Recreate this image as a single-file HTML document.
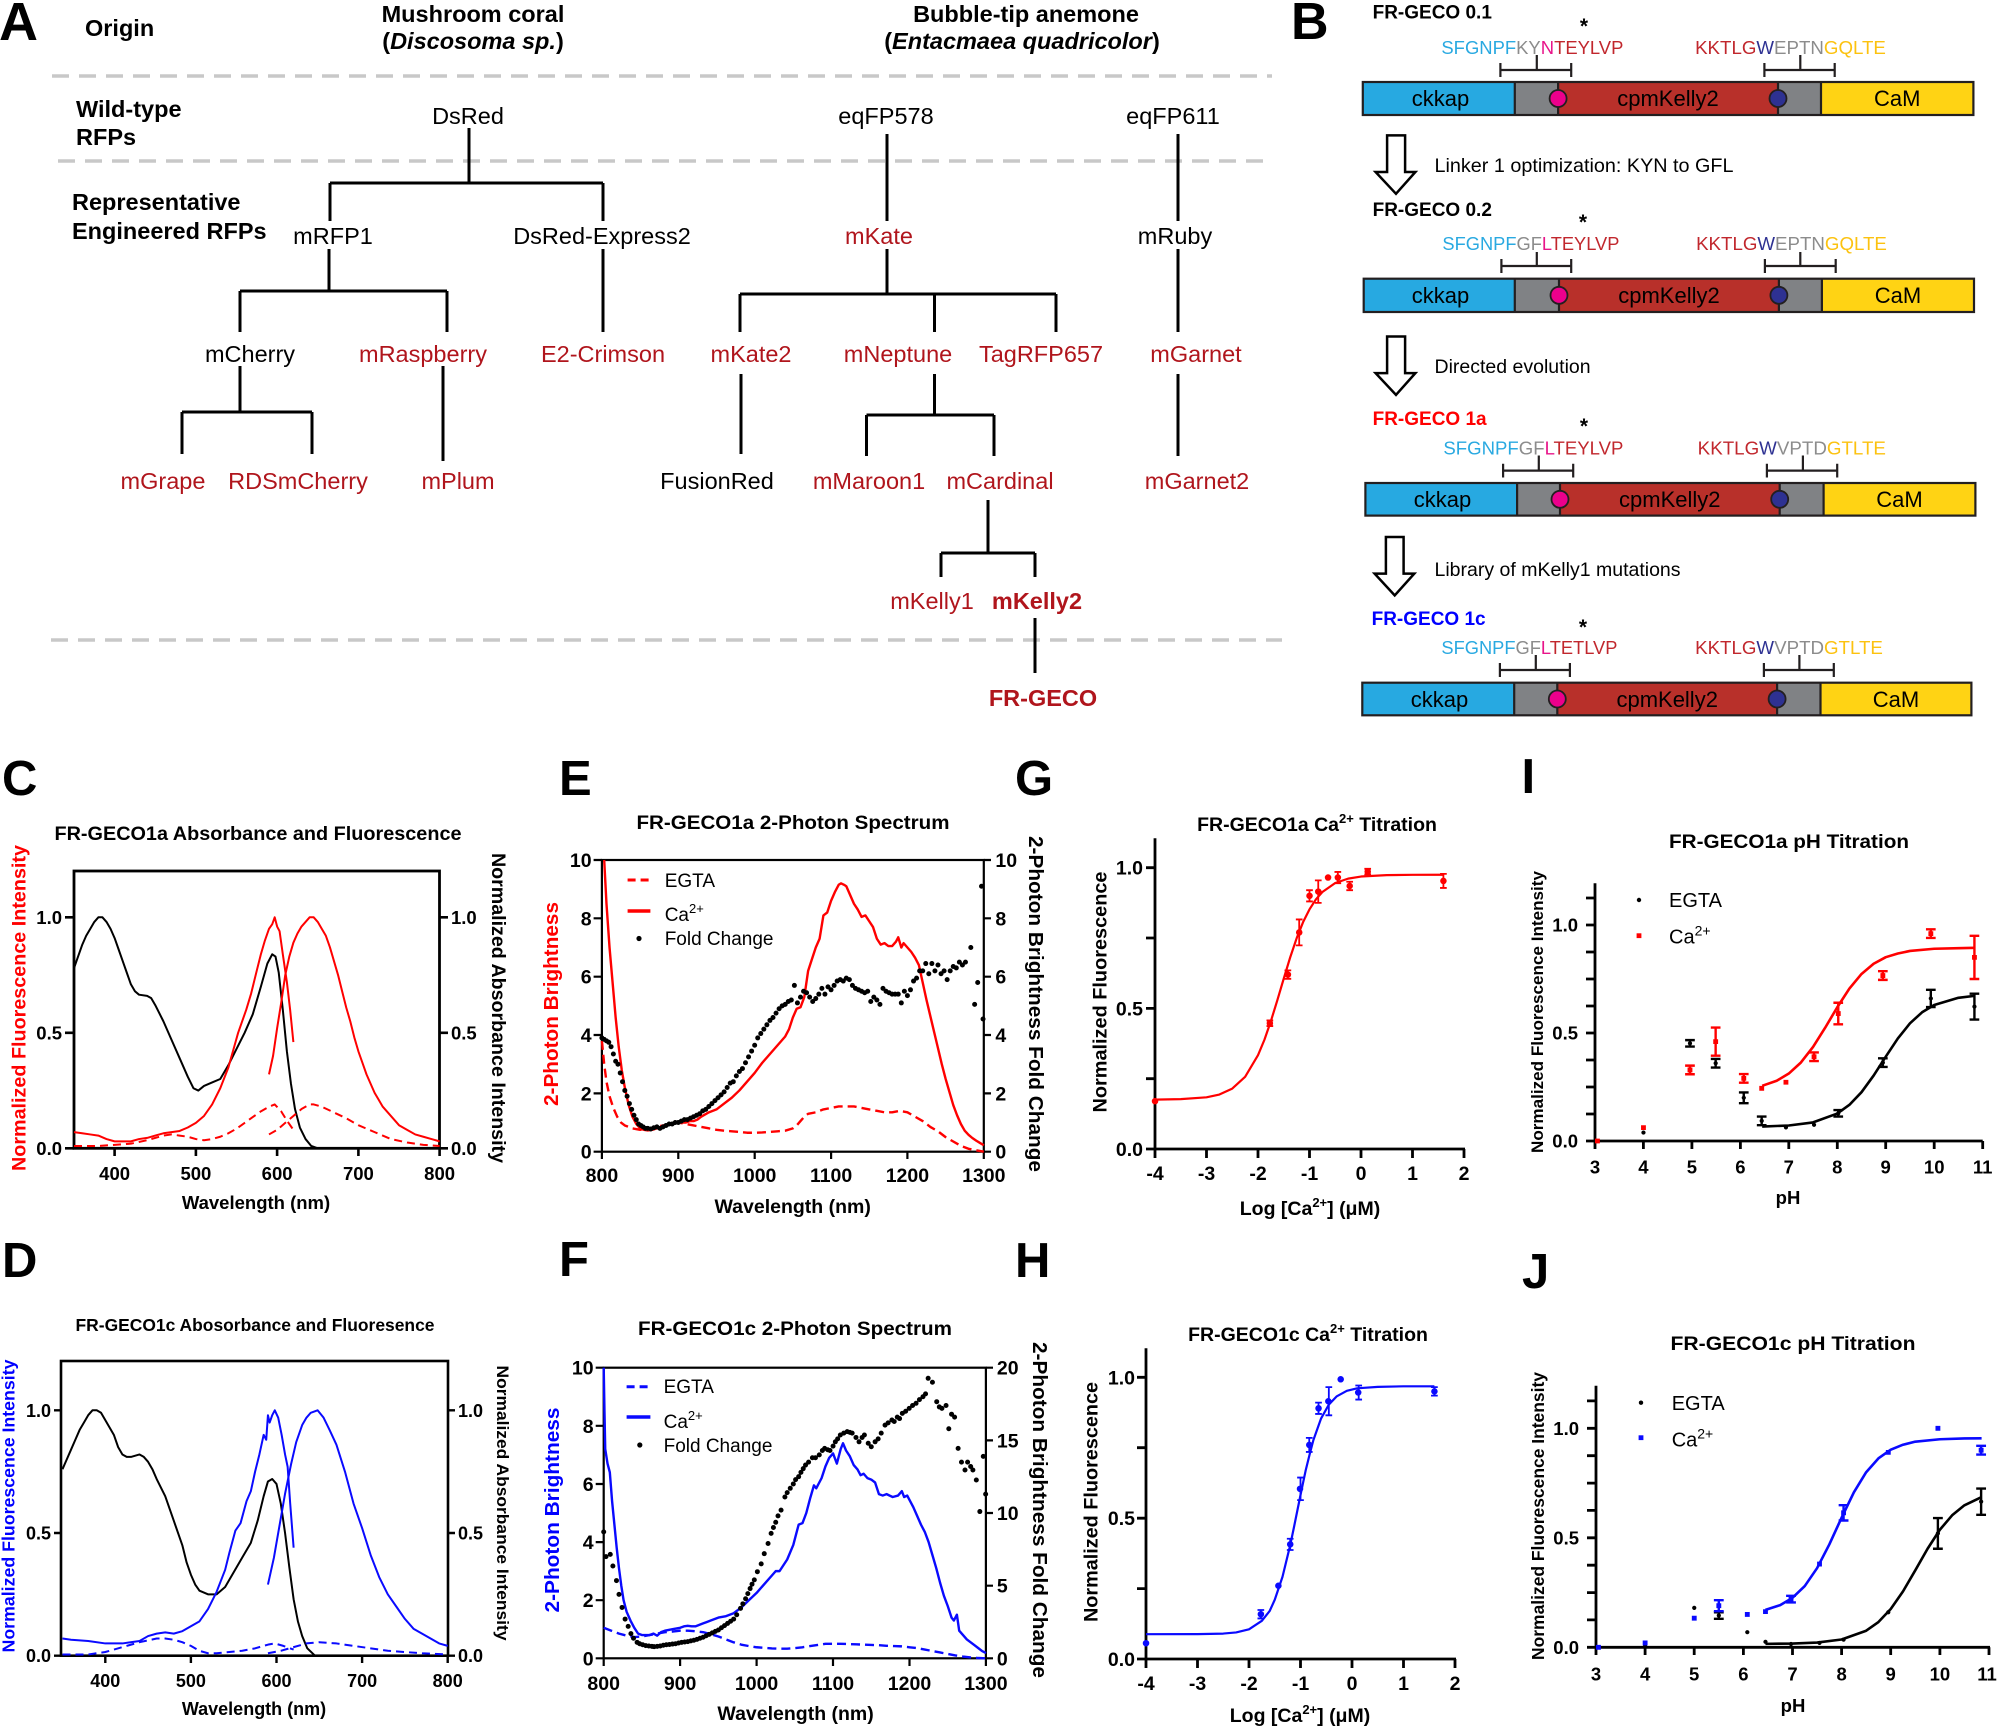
<!DOCTYPE html>
<html><head><meta charset="utf-8">
<style>
html,body{margin:0;padding:0;background:#fff;}
svg{display:block;}
text{font-family:"Liberation Sans",Arial,sans-serif;fill:#000;}
.b{font-weight:bold;}
.d{fill:none;vector-effect:non-scaling-stroke;stroke-linejoin:round;}
.ax{fill:none;stroke:#000;}
</style></head><body>
<svg width="1998" height="1727" viewBox="0 0 1998 1727" xmlns="http://www.w3.org/2000/svg">
<rect width="1998" height="1727" fill="#fff"/>

<!-- ================= PANEL A ================= -->
<text x="-1" y="40" class="b" font-size="54">A</text>
<g class="b" font-size="23.5">
<text x="85" y="36">Origin</text>
<text x="473" y="22" text-anchor="middle">Mushroom coral</text>
<text x="473" y="49" text-anchor="middle">(<tspan font-style="italic">Discosoma sp.</tspan>)</text>
<text x="1026" y="22" text-anchor="middle">Bubble-tip anemone</text>
<text x="1022" y="49" text-anchor="middle">(<tspan font-style="italic">Entacmaea quadricolor</tspan>)</text>
<text x="76" y="117">Wild-type</text>
<text x="76" y="145">RFPs</text>
<text x="72" y="210">Representative</text>
<text x="72" y="239">Engineered RFPs</text>
</g>
<g stroke="#c8c8c8" stroke-width="3.5" stroke-dasharray="17 10" fill="none">
<path d="M52 76H1272"/>
<path d="M58 161H1272"/>
<path d="M51 640H1282"/>
</g>
<g font-size="23.5" text-anchor="middle">
<text x="468" y="124">DsRed</text>
<text x="886" y="124">eqFP578</text>
<text x="1173" y="124">eqFP611</text>
<text x="333" y="244">mRFP1</text>
<text x="602" y="244">DsRed-Express2</text>
<text x="879" y="244" style="fill:#b0151c">mKate</text>
<text x="1175" y="244">mRuby</text>
<text x="250" y="362">mCherry</text>
<text x="423" y="362" style="fill:#b0151c">mRaspberry</text>
<text x="603" y="362" style="fill:#b0151c">E2-Crimson</text>
<text x="751" y="362" style="fill:#b0151c">mKate2</text>
<text x="898" y="362" style="fill:#b0151c">mNeptune</text>
<text x="1041" y="362" style="fill:#b0151c">TagRFP657</text>
<text x="1196" y="362" style="fill:#b0151c">mGarnet</text>
<text x="163" y="489" style="fill:#b0151c">mGrape</text>
<text x="298" y="489" style="fill:#b0151c">RDSmCherry</text>
<text x="458" y="489" style="fill:#b0151c">mPlum</text>
<text x="869" y="489" style="fill:#b0151c">mMaroon1</text>
<text x="1000" y="489" style="fill:#b0151c">mCardinal</text>
<text x="1197" y="489" style="fill:#b0151c">mGarnet2</text>
<text x="932" y="609" style="fill:#b0151c">mKelly1</text>
<text x="1037" y="609" class="b" style="fill:#b0151c">mKelly2</text>
<text x="1043" y="706" class="b" style="fill:#b0151c">FR-GECO</text>
<text x="717" y="489">FusionRed</text>
</g>
<path fill="none" stroke="#000" stroke-width="3" d="M469 128V183 M330 183H603 M330 183V221 M603 183V221 M887 134V221 M1178 134V221 M329 249V291 M240 291H447 M240 291V332 M447 291V332 M603 249V332 M887 249V294 M740 294H1056 M740 294V332 M934.5 294V332 M1056 294V332 M1178 249V332 M240 366V412 M182 412H312 M182 412V454 M312 412V454 M443 366V461 M741 374V454 M934.5 374V415 M866.5 415H994 M866.5 415V456 M994 415V456 M1178 374V456 M988 500V553 M941 553H1035 M941 553V577 M1035 553V577 M1035 618V673"/>

<!-- ================= PANEL B ================= -->
<text x="1291" y="39" class="b" font-size="52">B</text>
<g class="b" font-size="19">
<text x="1372.6" y="18.5">FR-GECO 0.1</text>
<text x="1372.6" y="216">FR-GECO 0.2</text>
<text x="1372.6" y="425" style="fill:#ff0000">FR-GECO 1a</text>
<text x="1371.6" y="625" style="fill:#0000ff">FR-GECO 1c</text>
</g>
<g class="b" font-size="21" text-anchor="middle">
<text x="1584" y="33">*</text>
<text x="1583" y="229">*</text>
<text x="1584" y="433">*</text>
<text x="1583" y="634">*</text>
</g>
<g font-size="18.5">
<text x="1441.4" y="54" textLength="182" lengthAdjust="spacingAndGlyphs"><tspan style="fill:#29a9e1">SFGNPF</tspan><tspan style="fill:#8c8c8c">KY</tspan><tspan style="fill:#e8158a">N</tspan><tspan style="fill:#c1272d">TEYLVP</tspan></text>
<text x="1695.1" y="54" textLength="190.8" lengthAdjust="spacingAndGlyphs"><tspan style="fill:#c1272d">KKTLG</tspan><tspan style="fill:#2e3192">W</tspan><tspan style="fill:#8c8c8c">EPTN</tspan><tspan style="fill:#fcc20f">GQLTE</tspan></text>
<text x="1442.4" y="250" textLength="177" lengthAdjust="spacingAndGlyphs"><tspan style="fill:#29a9e1">SFGNPF</tspan><tspan style="fill:#8c8c8c">GF</tspan><tspan style="fill:#e8158a">L</tspan><tspan style="fill:#c1272d">TEYLVP</tspan></text>
<text x="1696.1" y="250" textLength="190.8" lengthAdjust="spacingAndGlyphs"><tspan style="fill:#c1272d">KKTLG</tspan><tspan style="fill:#2e3192">W</tspan><tspan style="fill:#8c8c8c">EPTN</tspan><tspan style="fill:#fcc20f">GQLTE</tspan></text>
<text x="1443.4" y="454.5" textLength="180" lengthAdjust="spacingAndGlyphs"><tspan style="fill:#29a9e1">SFGNPF</tspan><tspan style="fill:#8c8c8c">GF</tspan><tspan style="fill:#e8158a">L</tspan><tspan style="fill:#c1272d">TEYLVP</tspan></text>
<text x="1697.7" y="454.5" textLength="188.2" lengthAdjust="spacingAndGlyphs"><tspan style="fill:#c1272d">KKTLG</tspan><tspan style="fill:#2e3192">W</tspan><tspan style="fill:#8c8c8c">VPTD</tspan><tspan style="fill:#fcc20f">GTLTE</tspan></text>
<text x="1441.4" y="654" textLength="176" lengthAdjust="spacingAndGlyphs"><tspan style="fill:#29a9e1">SFGNPF</tspan><tspan style="fill:#8c8c8c">GF</tspan><tspan style="fill:#e8158a">L</tspan><tspan style="fill:#c1272d">TETLVP</tspan></text>
<text x="1695.1" y="654" textLength="187.8" lengthAdjust="spacingAndGlyphs"><tspan style="fill:#c1272d">KKTLG</tspan><tspan style="fill:#2e3192">W</tspan><tspan style="fill:#8c8c8c">VPTD</tspan><tspan style="fill:#fcc20f">GTLTE</tspan></text>
</g>
<!-- brackets -->
<path fill="none" stroke="#231f20" stroke-width="2.2" d="
M1500.4 70H1571.2 M1500.4 63V77 M1571.2 63V77 M1536.8 55V70 M1764.4 70H1834.7 M1764.4 63V77 M1834.7 63V77 M1800.3 55V70
M1501.4 266H1571.2 M1501.4 259V273 M1571.2 259V273 M1536.8 252V266 M1764.9 266H1835.7 M1764.9 259V273 M1835.7 259V273 M1800.3 252V266
M1503.1 470.6H1573.2 M1503.1 463.7V477.5 M1573.2 463.7V477.5 M1538.8 455.5V470.6 M1766.9 470.6H1837.2 M1766.9 463.7V477.5 M1837.2 463.7V477.5 M1802.9 455.5V470.6
M1499.9 670H1569.9 M1499.9 663V677 M1569.9 663V677 M1535.8 655V670 M1763.9 670H1833.8 M1763.9 663V677 M1833.8 663V677 M1799.4 655V670"/>
<!-- bars -->
<g stroke="none">
<rect x="1362.8" y="82" width="152" height="33" fill="#27a9e1"/><rect x="1514.8" y="82" width="43.3" height="33" fill="#808285"/><rect x="1558.1" y="82" width="219.9" height="33" fill="#b8302a"/><rect x="1778" y="82" width="43" height="33" fill="#808285"/><rect x="1821" y="82" width="152.4" height="33" fill="#ffd314"/>
<rect x="1363.7" y="278.7" width="151.1" height="33.3" fill="#27a9e1"/><rect x="1514.8" y="278.7" width="44.2" height="33.3" fill="#808285"/><rect x="1559" y="278.7" width="219.9" height="33.3" fill="#b8302a"/><rect x="1778.9" y="278.7" width="43" height="33.3" fill="#808285"/><rect x="1821.9" y="278.7" width="152.1" height="33.3" fill="#ffd314"/>
<rect x="1365.4" y="483" width="151.7" height="32.6" fill="#27a9e1"/><rect x="1517.1" y="483" width="42.9" height="32.6" fill="#808285"/><rect x="1560" y="483" width="219.7" height="32.6" fill="#b8302a"/><rect x="1779.7" y="483" width="43.9" height="32.6" fill="#808285"/><rect x="1823.6" y="483" width="151.8" height="32.6" fill="#ffd314"/>
<rect x="1362.3" y="682.7" width="151.9" height="32.6" fill="#27a9e1"/><rect x="1514.2" y="682.7" width="43.1" height="32.6" fill="#808285"/><rect x="1557.3" y="682.7" width="219.8" height="32.6" fill="#b8302a"/><rect x="1777.1" y="682.7" width="43.4" height="32.6" fill="#808285"/><rect x="1820.5" y="682.7" width="150.9" height="32.6" fill="#ffd314"/>
</g>
<g fill="none" stroke="#231f20" stroke-width="2.2">
<rect x="1362.8" y="82" width="610.6" height="33"/><path d="M1514.8 82V115M1558.1 82V115M1778 82V115M1821 82V115"/>
<rect x="1363.7" y="278.7" width="610.3" height="33.3"/><path d="M1514.8 278.7V312M1559 278.7V312M1778.9 278.7V312M1821.9 278.7V312"/>
<rect x="1365.4" y="483" width="610" height="32.6"/><path d="M1517.1 483V515.6M1560 483V515.6M1779.7 483V515.6M1823.6 483V515.6"/>
<rect x="1362.3" y="682.7" width="609.1" height="32.6"/><path d="M1514.2 682.7V715.3M1557.3 682.7V715.3M1777.1 682.7V715.3M1820.5 682.7V715.3"/>
</g>
<g stroke="#231f20" stroke-width="1.8">
<circle cx="1558.1" cy="98.5" r="8.5" fill="#ec008c"/><circle cx="1778" cy="98.5" r="8.5" fill="#2e3192"/>
<circle cx="1559" cy="295.3" r="8.5" fill="#ec008c"/><circle cx="1778.9" cy="295.3" r="8.5" fill="#2e3192"/>
<circle cx="1560" cy="499.3" r="8.5" fill="#ec008c"/><circle cx="1779.7" cy="499.3" r="8.5" fill="#2e3192"/>
<circle cx="1557.3" cy="699" r="8.5" fill="#ec008c"/><circle cx="1777.1" cy="699" r="8.5" fill="#2e3192"/>
</g>
<g font-size="22" text-anchor="middle" style="fill:#231f20">
<text x="1440.5" y="106">ckkap</text><text x="1668" y="106">cpmKelly2</text><text x="1897.2" y="106">CaM</text>
<text x="1440.5" y="303">ckkap</text><text x="1669" y="303">cpmKelly2</text><text x="1898" y="303">CaM</text>
<text x="1442.5" y="507">ckkap</text><text x="1669.8" y="507">cpmKelly2</text><text x="1899.5" y="507">CaM</text>
<text x="1439.5" y="707">ckkap</text><text x="1667.2" y="707">cpmKelly2</text><text x="1896" y="707">CaM</text>
</g>
<g fill="#fff" stroke="#000" stroke-width="2.5" stroke-linejoin="miter">
<polygon points="1387.1,135.4 1405.1,135.4 1405.1,172 1415.4,172 1396,193.8 1375.6,172 1387.1,172"/>
<polygon points="1387.1,336.5 1405.1,336.5 1405.1,373.1 1415.4,373.1 1396,394.9 1375.6,373.1 1387.1,373.1"/>
<polygon points="1385.9,537 1403.6,537 1403.6,573.6 1414.3,573.6 1394.7,595.4 1374.6,573.6 1385.9,573.6"/>
</g>
<g font-size="19.5">
<text x="1434.5" y="172" textLength="299" lengthAdjust="spacingAndGlyphs">Linker 1 optimization: KYN to GFL</text>
<text x="1434.5" y="373">Directed evolution</text>
<text x="1434.5" y="576">Library of mKelly1 mutations</text>
</g>

<!-- ================= PANEL C ================= -->
<text x="2" y="795" class="b" font-size="49">C</text>
<text x="258" y="840" class="b" font-size="19.5" text-anchor="middle" textLength="407" lengthAdjust="spacingAndGlyphs">FR-GECO1a Absorbance and Fluorescence</text>
<rect x="74" y="871" width="365.5" height="277.3" class="ax" stroke-width="2.8"/>
<path class="ax" stroke-width="2.6" d="M65 1148.3H74 M65 1032.8H74 M65 917.3H74 M439.5 1148.3H448 M439.5 1032.8H448 M439.5 917.3H448 M114.6 1148V1156 M195.9 1148V1156 M277.1 1148V1156 M358.4 1148V1156 M439.6 1148V1156"/>
<g class="b" font-size="18.5">
<g text-anchor="end"><text x="62" y="1155">0.0</text><text x="62" y="1039.5">0.5</text><text x="62" y="924">1.0</text></g>
<text x="451" y="1155">0.0</text><text x="451" y="1039.5">0.5</text><text x="451" y="924">1.0</text>
<g text-anchor="middle"><text x="114.6" y="1180">400</text><text x="195.9" y="1180">500</text><text x="277.1" y="1180">600</text><text x="358.4" y="1180">700</text><text x="439.6" y="1180">800</text>
<text x="256" y="1209">Wavelength (nm)</text></g>
</g>
<text class="b" font-size="19.5" text-anchor="middle" transform="translate(25.5,1008) rotate(-90)" style="fill:#ff0000" textLength="326" lengthAdjust="spacingAndGlyphs">Normalized Fluorescence Intensity</text>
<text class="b" font-size="19.5" text-anchor="middle" transform="translate(492,1008) rotate(90)" textLength="310" lengthAdjust="spacingAndGlyphs">Normalized Absorbance Intensity</text>
<g transform="matrix(0.8125,0,0,-231,-210.375,1148.3)">
<path class="d" stroke="#000" stroke-width="2" d="M350,0.78 L355,0.83 360,0.88 365,0.92 370,0.95 375,0.98 380,1.0 385,1.0 390,0.98 395,0.95 400,0.91 405,0.86 410,0.81 415,0.76 420,0.71 425,0.68 430,0.665 440,0.66 445,0.65 450,0.62 460,0.55 470,0.47 480,0.39 490,0.31 497,0.26 503,0.25 510,0.27 520,0.285 530,0.30 540,0.36 550,0.43 560,0.5 570,0.58 580,0.7 588,0.8 594,0.84 598,0.83 602,0.76 607,0.6 612,0.42 617,0.28 622,0.17 628,0.09 635,0.04 642,0.01 650,0"/>
<path class="d" stroke="#ff0000" stroke-width="2" d="M350,0.07 L360,0.065 370,0.06 380,0.055 390,0.04 400,0.03 410,0.03 420,0.03 430,0.04 440,0.045 450,0.055 460,0.065 470,0.07 480,0.075 490,0.09 500,0.11 510,0.14 520,0.19 530,0.26 540,0.35 548,0.45 552,0.5 556,0.54 562,0.6 568,0.67 575,0.77 580,0.84 585,0.9 590,0.95 594,0.97 597,1.0 600,0.96 603,0.94 607,0.84 612,0.72 616,0.6 620,0.46"/>
<path class="d" stroke="#ff0000" stroke-width="2" d="M590,0.32 L595,0.4 600,0.52 605,0.63 610,0.75 615,0.83 620,0.89 625,0.93 630,0.96 635,0.98 640,1.0 645,1.0 650,0.98 655,0.95 660,0.92 665,0.87 670,0.81 675,0.75 680,0.68 685,0.61 690,0.55 695,0.48 700,0.42 705,0.37 710,0.32 715,0.28 720,0.24 725,0.21 730,0.18 740,0.14 750,0.1 760,0.08 770,0.06 780,0.05 790,0.04 800,0.03"/>
<path class="d" stroke="#ff0000" stroke-width="2" stroke-dasharray="8 5" d="M350,0.01 L380,0.01 400,0.015 420,0.02 440,0.035 460,0.055 470,0.06 480,0.055 490,0.05 500,0.04 510,0.035 520,0.04 530,0.05 540,0.065 550,0.085 560,0.11 570,0.135 580,0.16 590,0.18 597,0.19 605,0.16 612,0.12 620,0.08"/>
<path class="d" stroke="#ff0000" stroke-width="2" stroke-dasharray="8 5" d="M590,0.06 L600,0.08 610,0.11 620,0.14 630,0.17 640,0.19 645,0.19 655,0.18 670,0.155 685,0.13 700,0.1 720,0.07 740,0.04 760,0.025 780,0.015 800,0.01"/>
</g>

<!-- ================= PANEL D ================= -->
<text x="2" y="1277" class="b" font-size="49">D</text>
<text x="255" y="1331" class="b" font-size="17.5" text-anchor="middle" textLength="359" lengthAdjust="spacingAndGlyphs">FR-GECO1c Abosorbance and Fluoresence</text>
<rect x="61" y="1361" width="387" height="294.7" class="ax" stroke-width="2.6"/>
<path class="ax" stroke-width="2.4" d="M54 1655.7H61 M54 1533H61 M54 1410.3H61 M448 1655.7H455 M448 1533H455 M448 1410.3H455 M105.3 1655V1663 M190.9 1655V1663 M276.5 1655V1663 M362.1 1655V1663 M447.7 1655V1663"/>
<g class="b" font-size="18">
<g text-anchor="end"><text x="51" y="1662">0.0</text><text x="51" y="1539.5">0.5</text><text x="51" y="1416.8">1.0</text></g>
<text x="458" y="1662">0.0</text><text x="458" y="1539.5">0.5</text><text x="458" y="1416.8">1.0</text>
<g text-anchor="middle"><text x="105.3" y="1687">400</text><text x="190.9" y="1687">500</text><text x="276.5" y="1687">600</text><text x="362.1" y="1687">700</text><text x="447.7" y="1687">800</text>
<text x="254" y="1715">Wavelength (nm)</text></g>
</g>
<text class="b" font-size="17.5" text-anchor="middle" transform="translate(14.5,1506) rotate(-90)" style="fill:#0000ff" textLength="293" lengthAdjust="spacingAndGlyphs">Normalized Fluorescence  Intensity</text>
<text class="b" font-size="16.5" text-anchor="middle" transform="translate(497,1503) rotate(90)" textLength="275" lengthAdjust="spacingAndGlyphs">Normalized Absorbance Intensity</text>
<g transform="matrix(0.856,0,0,-245.4,-237.1,1655.7)">
<path class="d" stroke="#000" stroke-width="2" d="M350,0.76 L355,0.8 360,0.84 365,0.88 370,0.92 375,0.95 380,0.98 385,1.0 390,1.0 395,0.99 400,0.96 405,0.93 410,0.9 415,0.85 420,0.82 425,0.81 430,0.81 440,0.82 445,0.81 450,0.79 455,0.76 460,0.72 470,0.65 480,0.55 490,0.45 495,0.38 500,0.33 505,0.29 510,0.265 520,0.25 530,0.25 540,0.28 550,0.34 560,0.4 570,0.46 578,0.55 585,0.65 590,0.71 595,0.72 600,0.7 605,0.62 610,0.5 615,0.36 620,0.23 625,0.14 630,0.08 636,0.03 645,0"/>
<path class="d" stroke="#0a0aff" stroke-width="2" d="M350,0.07 L360,0.065 380,0.06 400,0.05 420,0.05 440,0.06 450,0.08 460,0.09 470,0.095 480,0.09 490,0.1 500,0.12 510,0.14 520,0.19 530,0.26 540,0.35 545,0.42 552,0.51 558,0.54 565,0.63 570,0.67 575,0.75 580,0.82 585,0.9 588,0.88 590,0.98 592,0.95 595,0.98 598,1.0 602,0.97 606,0.9 610,0.82 613,0.77 616,0.62 620,0.44"/>
<path class="d" stroke="#0a0aff" stroke-width="2" d="M590,0.29 L597,0.4 603,0.52 610,0.66 617,0.78 623,0.87 630,0.94 635,0.97 640,0.99 648,1.0 655,0.97 662,0.92 670,0.86 680,0.75 690,0.62 700,0.52 710,0.41 720,0.32 730,0.25 740,0.2 750,0.15 760,0.11 770,0.09 780,0.07 790,0.05 800,0.04"/>
<path class="d" stroke="#0a0aff" stroke-width="2" stroke-dasharray="8 5" d="M350,0.005 L380,0.005 400,0.015 420,0.035 440,0.055 460,0.07 470,0.07 480,0.065 490,0.055 500,0.04 510,0.02 520,0.01 530,0.01 545,0.015 560,0.02 575,0.03 590,0.045 598,0.05 608,0.04 620,0.025"/>
<path class="d" stroke="#0a0aff" stroke-width="2" stroke-dasharray="8 5" d="M590,0.01 L605,0.02 620,0.035 635,0.05 650,0.055 670,0.05 690,0.04 710,0.03 730,0.02 750,0.015 770,0.01 800,0.005"/>
</g>

<!-- ================= PANEL E ================= -->
<text x="559" y="795" class="b" font-size="49">E</text>
<text x="793" y="829" class="b" font-size="19.5" text-anchor="middle" textLength="313" lengthAdjust="spacingAndGlyphs">FR-GECO1a 2-Photon Spectrum</text>
<rect x="601.9" y="860" width="381.9" height="291.7" class="ax" stroke-width="2.2"/>
<path class="ax" stroke-width="2.2" d="M593.6 1151.7H601.9 M593.6 1093.4H601.9 M593.6 1035H601.9 M593.6 976.7H601.9 M593.6 918.3H601.9 M593.6 860H601.9 M983.8 1151.7H991 M983.8 1093.4H991 M983.8 1035H991 M983.8 976.7H991 M983.8 918.3H991 M983.8 860H991 M601.9 1151.7V1159 M678.3 1151.7V1159 M754.7 1151.7V1159 M831.1 1151.7V1159 M907.4 1151.7V1159 M983.8 1151.7V1159"/>
<g class="b" font-size="19.5">
<g text-anchor="end"><text x="591.6" y="1158.7">0</text><text x="591.6" y="1100.4">2</text><text x="591.6" y="1042">4</text><text x="591.6" y="983.7">6</text><text x="591.6" y="925.3">8</text><text x="591.6" y="867">10</text></g>
<text x="995.4" y="1158.7">0</text><text x="995.4" y="1100.4">2</text><text x="995.4" y="1042">4</text><text x="995.4" y="983.7">6</text><text x="995.4" y="925.3">8</text><text x="995.4" y="867">10</text>
<g text-anchor="middle"><text x="601.9" y="1182">800</text><text x="678.3" y="1182">900</text><text x="754.7" y="1182">1000</text><text x="831.1" y="1182">1100</text><text x="907.4" y="1182">1200</text><text x="983.8" y="1182">1300</text>
<text x="792.7" y="1213">Wavelength (nm)</text></g>
</g>
<text class="b" font-size="20.5" text-anchor="middle" transform="translate(558,1004) rotate(-90)" style="fill:#ff0000" textLength="204" lengthAdjust="spacingAndGlyphs">2-Photon Brightness</text>
<text class="b" font-size="20.5" text-anchor="middle" transform="translate(1029,1004) rotate(90)" textLength="336" lengthAdjust="spacingAndGlyphs">2-Photon Brightness Fold Change</text>
<g font-size="19">
<path d="M627.6 880H650.4" stroke="#ff0000" stroke-width="3" stroke-dasharray="8 5"/>
<text x="664.7" y="887">EGTA</text>
<path d="M627.6 911H650.4" stroke="#ff0000" stroke-width="3.5"/>
<text x="664.7" y="921">Ca<tspan dy="-8" font-size="13">2+</tspan></text>
<circle cx="639" cy="938.5" r="2.6" fill="#000"/>
<text x="664.7" y="945">Fold Change</text>
</g>
<g transform="matrix(0.7638,0,0,-29.17,-9.14,1151.7)">
<path class="d" stroke="#ff0000" stroke-width="2.4" stroke-dasharray="9 5" d="M800,3.8 L803,3.0 806,2.4 810,1.9 815,1.5 820,1.2 825,1.0 830,0.9 840,0.8 850,0.75 860,0.78 870,0.85 880,0.9 890,0.95 900,1.0 910,0.95 920,0.9 930,0.85 940,0.8 950,0.75 960,0.72 970,0.7 980,0.68 990,0.65 1000,0.65 1010,0.66 1020,0.68 1030,0.7 1040,0.72 1050,0.8 1055,0.9 1060,1.05 1065,1.2 1070,1.3 1080,1.35 1090,1.45 1100,1.5 1110,1.55 1120,1.55 1130,1.55 1140,1.5 1150,1.45 1160,1.4 1170,1.35 1180,1.35 1190,1.4 1200,1.35 1210,1.2 1220,1.05 1230,0.85 1240,0.7 1250,0.5 1260,0.35 1270,0.2 1280,0.1 1290,0.05 1300,0"/>
<path class="d" stroke="#ff0000" stroke-width="2.4" d="M803,10 L806,8.5 810,7.0 814,5.8 818,4.6 822,3.6 826,2.8 830,2.2 835,1.6 840,1.2 845,0.95 850,0.8 855,0.75 860,0.73 866,0.75 872,0.8 880,0.85 890,0.95 900,1.0 910,1.0 915,1.05 920,1.05 925,1.1 930,1.2 940,1.35 950,1.45 960,1.65 970,1.85 980,2.1 990,2.4 1000,2.7 1010,3.05 1020,3.35 1030,3.65 1040,3.95 1045,4.2 1050,4.6 1055,4.9 1060,4.95 1065,5.3 1070,6.2 1075,6.6 1080,7.0 1085,7.3 1090,8.1 1095,8.2 1100,8.6 1105,8.9 1110,9.15 1113,9.2 1117,9.15 1120,9.1 1125,8.8 1130,8.5 1135,8.3 1140,8.05 1145,8.1 1150,7.9 1155,7.7 1160,7.3 1165,7.1 1170,7.15 1175,7.05 1180,7.05 1185,7.2 1188,7.35 1192,7.0 1195,7.15 1200,7.0 1205,6.85 1210,6.65 1215,6.4 1220,5.8 1225,5.2 1230,4.65 1235,4.1 1240,3.55 1245,3.0 1250,2.5 1255,2.05 1260,1.6 1265,1.25 1270,0.95 1275,0.72 1280,0.58 1285,0.47 1290,0.38 1295,0.3 1300,0.22"/>
<path class="d" stroke="#000" stroke-width="5" stroke-linecap="round" d="M800,3.9h0.01M803,3.85h0.01M806,3.8h0.01M809,3.75h0.01M812,3.6h0.01M815,3.35h0.01M818,3.1h0.01M821,3.0h0.01M824,2.7h0.01M827,2.4h0.01M830,2.1h0.01M833,1.9h0.01M836,1.65h0.01M839,1.45h0.01M842,1.25h0.01M845,1.1h0.01M848,0.95h0.01M851,0.9h0.01M854,0.85h0.01M857,0.8h0.01M860,0.8h0.01M864,0.78h0.01M868,0.82h0.01M872,0.85h0.01M876,0.8h0.01M880,0.85h0.01M884,0.9h0.01M888,0.95h0.01M892,0.95h0.01M896,1.0h0.01M900,1.0h0.01M904,1.05h0.01M908,1.1h0.01M912,1.1h0.01M916,1.15h0.01M920,1.2h0.01M924,1.25h0.01M928,1.3h0.01M932,1.4h0.01M936,1.45h0.01M940,1.55h0.01M944,1.65h0.01M948,1.75h0.01M952,1.85h0.01M956,1.95h0.01M960,2.05h0.01M964,2.2h0.01M968,2.35h0.01M972,2.4h0.01M976,2.6h0.01M980,2.75h0.01M984,2.85h0.01M988,3.05h0.01M992,3.25h0.01M996,3.45h0.01M1000,3.65h0.01M1004,3.9h0.01M1008,4.05h0.01M1012,4.2h0.01M1016,4.35h0.01M1020,4.5h0.01M1024,4.6h0.01M1028,4.75h0.01M1032,4.9h0.01M1036,5.0h0.01M1040,5.05h0.01M1044,5.15h0.01M1048,5.2h0.01M1052,5.7h0.01M1056,5.1h0.01M1060,5.3h0.01M1064,5.5h0.01M1068,5.45h0.01M1072,5.3h0.01M1076,5.15h0.01M1080,5.25h0.01M1084,5.4h0.01M1088,5.6h0.01M1092,5.4h0.01M1096,5.65h0.01M1100,5.55h0.01M1104,5.7h0.01M1108,5.85h0.01M1112,5.9h0.01M1116,5.85h0.01M1120,5.95h0.01M1124,5.9h0.01M1128,5.7h0.01M1132,5.6h0.01M1136,5.55h0.01M1140,5.5h0.01M1144,5.45h0.01M1148,5.5h0.01M1152,5.15h0.01M1156,5.3h0.01M1160,5.2h0.01M1164,5.05h0.01M1168,5.6h0.01M1172,5.5h0.01M1176,5.45h0.01M1180,5.4h0.01M1184,5.4h0.01M1188,5.4h0.01M1192,5.1h0.01M1196,5.5h0.01M1200,5.35h0.01M1204,5.55h0.01M1208,5.85h0.01M1212,5.95h0.01M1216,6.2h0.01M1220,6.2h0.01M1224,6.45h0.01M1228,6.1h0.01M1232,6.45h0.01M1236,6.2h0.01M1240,6.4h0.01M1244,6.1h0.01M1248,6.2h0.01M1252,5.9h0.01M1256,6.2h0.01M1260,6.35h0.01M1264,6.3h0.01M1268,6.5h0.01M1272,6.4h0.01M1276,6.5h0.01M1283,7.0h0.01M1288,5.05h0.01M1292,5.8h0.01M1297,9.1h0.01M1299,4.55h0.01"/>
</g>

<!-- ================= PANEL F ================= -->
<text x="559" y="1276" class="b" font-size="49">F</text>
<text x="795" y="1335" class="b" font-size="19.5" text-anchor="middle" textLength="314" lengthAdjust="spacingAndGlyphs">FR-GECO1c 2-Photon Spectrum</text>
<rect x="603.7" y="1367.7" width="382.2" height="290.6" class="ax" stroke-width="2.2"/>
<path class="ax" stroke-width="2.2" d="M595.7 1658.3H603.7 M595.7 1600.2H603.7 M595.7 1542.1H603.7 M595.7 1484H603.7 M595.7 1425.8H603.7 M595.7 1367.7H603.7 M985.9 1658.3H993 M985.9 1585.7H993 M985.9 1513H993 M985.9 1440.4H993 M985.9 1367.7H993 M603.7 1658.3V1666 M680.1 1658.3V1666 M756.6 1658.3V1666 M833 1658.3V1666 M909.5 1658.3V1666 M985.9 1658.3V1666"/>
<g class="b" font-size="19.5">
<g text-anchor="end"><text x="593.6" y="1665.3">0</text><text x="593.6" y="1607.2">2</text><text x="593.6" y="1549.1">4</text><text x="593.6" y="1491">6</text><text x="593.6" y="1432.8">8</text><text x="593.6" y="1374.7">10</text></g>
<text x="996.9" y="1665.3">0</text><text x="996.9" y="1592.7">5</text><text x="996.9" y="1520">10</text><text x="996.9" y="1447.4">15</text><text x="996.9" y="1374.7">20</text>
<g text-anchor="middle"><text x="603.7" y="1690">800</text><text x="680.1" y="1690">900</text><text x="756.6" y="1690">1000</text><text x="833" y="1690">1100</text><text x="909.5" y="1690">1200</text><text x="985.9" y="1690">1300</text>
<text x="795.6" y="1720">Wavelength (nm)</text></g>
</g>
<text class="b" font-size="20.5" text-anchor="middle" transform="translate(559.2,1510) rotate(-90)" style="fill:#0000ff" textLength="205" lengthAdjust="spacingAndGlyphs">2-Photon Brightness</text>
<text class="b" font-size="20.5" text-anchor="middle" transform="translate(1033,1510) rotate(90)" textLength="336" lengthAdjust="spacingAndGlyphs">2-Photon Brightness Fold Change</text>
<g font-size="19">
<path d="M626.6 1386.7H650.4" stroke="#0a0aff" stroke-width="3" stroke-dasharray="8 5"/>
<text x="663.6" y="1393">EGTA</text>
<path d="M626.6 1417H650.4" stroke="#0a0aff" stroke-width="3.5"/>
<text x="663.6" y="1428">Ca<tspan dy="-8" font-size="13">2+</tspan></text>
<circle cx="639.8" cy="1445" r="2.6" fill="#000"/>
<text x="663.6" y="1452">Fold Change</text>
</g>
<g transform="matrix(0.7645,0,0,-29.06,-7.9,1658.3)">
<path class="d" stroke="#0a0aff" stroke-width="2.4" stroke-dasharray="9 5" d="M800,1.05 L805,1.0 810,0.95 820,0.85 830,0.78 840,0.73 850,0.75 860,0.8 870,0.85 880,0.9 890,0.92 900,0.95 910,0.95 920,0.93 930,0.9 940,0.83 950,0.75 960,0.65 970,0.55 980,0.47 990,0.42 1000,0.38 1010,0.36 1020,0.34 1030,0.33 1040,0.33 1050,0.35 1060,0.38 1070,0.42 1080,0.46 1090,0.5 1100,0.5 1110,0.5 1120,0.49 1130,0.48 1140,0.47 1150,0.46 1160,0.45 1170,0.43 1180,0.42 1190,0.41 1200,0.38 1210,0.35 1220,0.3 1230,0.25 1240,0.2 1250,0.15 1260,0.1 1270,0.06 1280,0.03 1290,0.01 1300,0"/>
<path class="d" stroke="#0a0aff" stroke-width="2.4" d="M800,10 L801,8.5 802,7.2 805,6.7 808,6.4 811,5.4 814,4.6 817,3.8 820,3.1 823,2.5 826,2.0 830,1.6 835,1.3 840,1.05 845,0.85 850,0.8 860,0.8 865,0.85 870,0.78 875,0.9 880,0.95 890,1.0 900,1.05 905,1.1 910,1.12 915,1.1 920,1.1 925,1.15 930,1.2 935,1.25 940,1.3 950,1.4 960,1.45 970,1.55 980,1.75 990,2.0 1000,2.25 1010,2.55 1020,2.85 1025,3.0 1030,3.0 1040,3.4 1048,3.9 1052,4.3 1055,4.6 1060,4.65 1065,5.0 1070,5.5 1075,5.95 1078,5.85 1085,6.2 1090,6.6 1095,6.9 1100,7.05 1105,6.7 1110,7.2 1113,7.4 1117,7.15 1122,6.95 1127,6.65 1132,6.5 1136,6.3 1140,6.35 1145,6.2 1150,6.15 1155,6.05 1160,5.65 1165,5.6 1170,5.65 1178,5.55 1185,5.6 1190,5.75 1193,5.55 1197,5.6 1200,5.45 1205,5.2 1210,4.9 1215,4.6 1220,4.35 1225,4.0 1230,3.55 1235,3.1 1240,2.6 1245,2.15 1250,1.8 1255,1.4 1258,1.3 1262,1.5 1265,0.95 1270,0.8 1275,0.65 1280,0.55 1285,0.45 1290,0.35 1295,0.25 1300,0.18"/>
</g>
<g transform="matrix(0.7645,0,0,-14.53,-7.9,1658.3)">
<path class="d" stroke="#000" stroke-width="5" stroke-linecap="round" d="M800,8.7h0.01M803,7.0h0.01M808.6,7.15h0.01M812,6.35h0.01M816.7,5.35h0.01M820,4.4h0.01M824,3.5h0.01M828,2.7h0.01M832,2.2h0.01M835.6,1.7h0.01M839,1.38h0.01M843.7,1.1h0.01M847,1.0h0.01M851,0.93h0.01M855,0.87h0.01M859,0.85h0.01M863,0.82h0.01M866,0.8h0.01M870,0.82h0.01M874,0.85h0.01M878,0.9h0.01M882,0.93h0.01M886,0.95h0.01M890,0.98h0.01M894,1.0h0.01M898,1.05h0.01M902,1.1h0.01M906,1.12h0.01M910,1.15h0.01M914,1.2h0.01M918,1.24h0.01M922,1.3h0.01M926,1.38h0.01M930,1.45h0.01M934,1.55h0.01M938,1.65h0.01M942,1.75h0.01M946,1.85h0.01M950,1.95h0.01M954,2.1h0.01M958,2.25h0.01M962,2.4h0.01M966,2.55h0.01M970,2.7h0.01M974,3.0h0.01M979,3.44h0.01M982,3.75h0.01M985.6,4.1h0.01M988.5,4.45h0.01M991.5,4.8h0.01M994,5.1h0.01M997,5.4h0.01M1001,5.96h0.01M1006,6.5h0.01M1010,7.2h0.01M1015,7.9h0.01M1019,8.6h0.01M1022,9.0h0.01M1025,9.36h0.01M1028,9.8h0.01M1032,10.2h0.01M1037,11.1h0.01M1040,11.4h0.01M1044,11.7h0.01M1048,12.0h0.01M1051,12.3h0.01M1055,12.5h0.01M1058,12.8h0.01M1061,13.05h0.01M1064,13.3h0.01M1068,13.5h0.01M1073,13.8h0.01M1077,13.8h0.01M1082,14.0h0.01M1086,14.3h0.01M1089,14.45h0.01M1093,14.35h0.01M1096,14.3h0.01M1100,14.6h0.01M1103,14.9h0.01M1106,15.1h0.01M1109.5,15.37h0.01M1114,15.5h0.01M1118.5,15.6h0.01M1122,15.55h0.01M1125,15.5h0.01M1130,15.2h0.01M1134,14.9h0.01M1138,15.2h0.01M1141,15.37h0.01M1146,14.8h0.01M1150,14.56h0.01M1155,14.9h0.01M1159,15.1h0.01M1163,15.5h0.01M1168,16.05h0.01M1172,16.2h0.01M1177,16.4h0.01M1180,16.3h0.01M1184,16.6h0.01M1187,16.5h0.01M1190.6,16.86h0.01M1195,17.0h0.01M1199.6,17.2h0.01M1204,17.4h0.01M1208.6,17.55h0.01M1213,17.8h0.01M1217.6,18.0h0.01M1221,18.2h0.01M1224.4,19.27h0.01M1230,19.0h0.01M1235.6,17.66h0.01M1239,17.3h0.01M1242.4,17.2h0.01M1247.8,17.4h0.01M1251.4,15.8h0.01M1255,16.8h0.01M1259,16.6h0.01M1263.6,14.45h0.01M1268,13.5h0.01M1272.6,12.96h0.01M1276,13.5h0.01M1280,13.2h0.01M1282.9,12.96h0.01M1287.4,12.27h0.01M1292,10.1h0.01M1296.5,13.9h0.01M1299.6,11.3h0.01"/>
</g>

<!-- ================= PANEL G ================= -->
<text x="1015" y="795" class="b" font-size="49">G</text>
<text x="1317" y="831" class="b" font-size="19.5" text-anchor="middle">FR-GECO1a Ca<tspan dy="-8" font-size="13">2+</tspan><tspan dy="8"> Titration</tspan></text>
<path class="ax" stroke-width="2.8" d="M1155 838.3V1149H1465 M1146 1149H1155 M1146 1078.7H1155 M1146 1008.4H1155 M1146 938H1155 M1146 867.7H1155 M1155 1149V1158 M1206.5 1149V1158 M1258 1149V1158 M1309.5 1149V1158 M1361 1149V1158 M1412.5 1149V1158 M1464 1149V1158"/>
<g class="b" font-size="19.5">
<g text-anchor="end"><text x="1143" y="1156">0.0</text><text x="1143" y="1015.4">0.5</text><text x="1143" y="874.7">1.0</text></g>
<g text-anchor="middle"><text x="1155" y="1180">-4</text><text x="1206.5" y="1180">-3</text><text x="1258" y="1180">-2</text><text x="1309.5" y="1180">-1</text><text x="1361" y="1180">0</text><text x="1412.5" y="1180">1</text><text x="1464" y="1180">2</text>
<text x="1310" y="1215">Log [Ca<tspan dy="-8" font-size="13">2+</tspan><tspan dy="8">] (μM)</tspan></text></g>
</g>
<text class="b" font-size="19.5" text-anchor="middle" transform="translate(1106.5,992) rotate(-90)" textLength="241" lengthAdjust="spacingAndGlyphs">Normalized Fluorescence</text>
<g transform="matrix(51.5,0,0,-281.3,1361,1149)">
<path class="d" stroke="#ff0000" stroke-width="2.2" d="M-4,0.1754 L-3.5,0.1774 -3,0.1837 -2.75,0.1937 -2.5,0.2147 -2.25,0.2565 -2,0.3334 -1.875,0.3884 -1.75,0.4545 -1.625,0.5287 -1.5,0.606 -1.375,0.6812 -1.25,0.749 -1.125,0.8064 -1,0.852 -0.875,0.8876 -0.75,0.9136 -0.5,0.9456 -0.25,0.9612 0,0.9686 0.5,0.9737 1,0.9748 1.6,0.975"/>
<path class="d" stroke="#ff0000" stroke-width="1.8" d="M-1.77,0.437V0.457M-1.835,0.437H-1.705M-1.835,0.457H-1.705 M-1.42,0.605V0.635M-1.485,0.605H-1.355M-1.485,0.635H-1.355 M-1.2,0.724V0.816M-1.265,0.724H-1.135M-1.265,0.816H-1.135 M-1.0,0.88V0.92M-1.065,0.88H-0.935M-1.065,0.92H-0.935 M-0.83,0.875V0.955M-0.895,0.875H-0.765M-0.895,0.955H-0.765 M-0.45,0.945V0.985M-0.515,0.945H-0.385M-0.515,0.985H-0.385 M-0.22,0.92V0.95M-0.285,0.92H-0.155M-0.285,0.95H-0.155 M0.13,0.976V0.996M0.065,0.976H0.195M0.065,0.996H0.195 M1.6,0.928V0.978M1.535,0.928H1.665M1.535,0.978H1.665"/>
<path class="d" stroke="#ff0000" stroke-width="6.5" stroke-linecap="round" d="M-4,0.17h0.001M-1.77,0.447h0.001M-1.42,0.62h0.001M-1.2,0.77h0.001M-1.0,0.9h0.001M-0.83,0.915h0.001M-0.64,0.965h0.001M-0.45,0.965h0.001M-0.22,0.935h0.001M0.13,0.986h0.001M1.6,0.953h0.001"/>
</g>

<!-- ================= PANEL H ================= -->
<text x="1015" y="1277" class="b" font-size="49">H</text>
<text x="1308" y="1341" class="b" font-size="19.5" text-anchor="middle">FR-GECO1c Ca<tspan dy="-8" font-size="13">2+</tspan><tspan dy="8"> Titration</tspan></text>
<path class="ax" stroke-width="2.8" d="M1146 1348.3V1659H1456 M1137 1659H1146 M1137 1588.6H1146 M1137 1518.2H1146 M1137 1447.7H1146 M1137 1377.3H1146 M1146 1659V1668 M1197.5 1659V1668 M1249 1659V1668 M1300.5 1659V1668 M1352 1659V1668 M1403.5 1659V1668 M1455 1659V1668"/>
<g class="b" font-size="19.5">
<g text-anchor="end"><text x="1135" y="1666">0.0</text><text x="1135" y="1525.2">0.5</text><text x="1135" y="1384.3">1.0</text></g>
<g text-anchor="middle"><text x="1146" y="1690">-4</text><text x="1197.5" y="1690">-3</text><text x="1249" y="1690">-2</text><text x="1300.5" y="1690">-1</text><text x="1352" y="1690">0</text><text x="1403.5" y="1690">1</text><text x="1455" y="1690">2</text>
<text x="1300" y="1722">Log [Ca<tspan dy="-8" font-size="13">2+</tspan><tspan dy="8">] (μM)</tspan></text></g>
</g>
<text class="b" font-size="19.5" text-anchor="middle" transform="translate(1097.5,1502) rotate(-90)" textLength="240" lengthAdjust="spacingAndGlyphs">Normalized Fluorescence</text>
<g transform="matrix(51.5,0,0,-281.7,1352,1659)">
<path class="d" stroke="#0a0aff" stroke-width="2.2" d="M-4,0.088 L-3,0.0883 -2.5,0.0902 -2.25,0.0943 -2,0.1055 -1.75,0.1357 -1.6,0.17 -1.5,0.2103 -1.35,0.2914 -1.2,0.404 -1.13,0.465 -1.06,0.528 -0.98,0.6 -0.9,0.669 -0.82,0.728 -0.75,0.777 -0.6,0.854 -0.45,0.903 -0.3,0.932 -0.1,0.952 0.1,0.961 0.5,0.966 1,0.968 1.6,0.968"/>
<path class="d" stroke="#0a0aff" stroke-width="1.8" d="M-1.77,0.144V0.174M-1.835,0.144H-1.705M-1.835,0.174H-1.705 M-1.2,0.387V0.427M-1.265,0.387H-1.135M-1.265,0.427H-1.135 M-1.0,0.564V0.644M-1.065,0.564H-0.935M-1.065,0.644H-0.935 M-0.83,0.735V0.785M-0.895,0.735H-0.765M-0.895,0.785H-0.765 M-0.65,0.87V0.91M-0.715,0.87H-0.585M-0.715,0.91H-0.585 M-0.45,0.865V0.965M-0.515,0.865H-0.385M-0.515,0.965H-0.385 M0.13,0.921V0.971M0.065,0.921H0.195M0.065,0.971H0.195 M1.6,0.935V0.965M1.535,0.935H1.665M1.535,0.965H1.665"/>
<path class="d" stroke="#0a0aff" stroke-width="6.5" stroke-linecap="round" d="M-4,0.056h0.001M-1.77,0.159h0.001M-1.43,0.26h0.001M-1.2,0.407h0.001M-1.01,0.604h0.001M-0.83,0.76h0.001M-0.65,0.89h0.001M-0.46,0.915h0.001M-0.22,0.993h0.001M0.12,0.946h0.001M1.6,0.95h0.001"/>
</g>

<!-- ================= PANEL I ================= -->
<text x="1521.5" y="793" class="b" font-size="49">I</text>
<text x="1789" y="848" class="b" font-size="19.5" text-anchor="middle" textLength="240" lengthAdjust="spacingAndGlyphs">FR-GECO1a pH Titration</text>
<path class="ax" stroke-width="2.8" d="M1595 883.3V1141H1982.7 M1586 1141H1595 M1586 1114H1595 M1586 1087H1595 M1586 1060H1595 M1586 1033H1595 M1586 1006H1595 M1586 979H1595 M1586 952H1595 M1586 925H1595 M1586 898H1595 M1595 1141V1149 M1643.4 1141V1149 M1691.9 1141V1149 M1740.4 1141V1149 M1788.8 1141V1149 M1837.3 1141V1149 M1885.7 1141V1149 M1934.2 1141V1149 M1982.7 1141V1149"/>
<g class="b" font-size="18.5">
<g text-anchor="end"><text x="1578" y="1147.5">0.0</text><text x="1578" y="1039.5">0.5</text><text x="1578" y="931.5">1.0</text></g>
<g text-anchor="middle"><text x="1595" y="1173.3">3</text><text x="1643.4" y="1173.3">4</text><text x="1691.9" y="1173.3">5</text><text x="1740.4" y="1173.3">6</text><text x="1788.8" y="1173.3">7</text><text x="1837.3" y="1173.3">8</text><text x="1885.7" y="1173.3">9</text><text x="1934.2" y="1173.3">10</text><text x="1982.7" y="1173.3">11</text>
<text x="1788" y="1204">pH</text></g>
</g>
<text class="b" font-size="17" text-anchor="middle" transform="translate(1543,1012) rotate(-90)" textLength="282" lengthAdjust="spacingAndGlyphs">Normalized Fluorescence Intensity</text>
<g font-size="20">
<circle cx="1639" cy="900" r="2.2" fill="#000"/>
<text x="1669" y="907">EGTA</text>
<rect x="1636.6" y="933.3" width="4.8" height="4.8" fill="#ff0000"/>
<text x="1669" y="943.3">Ca<tspan dy="-8" font-size="14">2+</tspan></text>
</g>
<g transform="matrix(48.46,0,0,-216,1449.6,1141)">
<path class="d" stroke="#ff0000" stroke-width="2.6" d="M6.45,0.2555 L6.75,0.279 7,0.3123 7.25,0.3635 7.5,0.4353 7.75,0.5244 8,0.6193 8.25,0.7057 8.5,0.7733 8.75,0.8205 9,0.851 9.25,0.868 9.5,0.88 10,0.89 10.5,0.8928 10.85,0.8943"/>
<path class="d" stroke="#000" stroke-width="2.6" d="M6.45,0.0669 L7,0.0718 7.5,0.0861 8,0.127 8.25,0.1673 8.5,0.226 8.75,0.303 9,0.3902 9.25,0.4747 9.5,0.5448 9.75,0.5959 10,0.6297 10.5,0.663 10.85,0.6724"/>
<path class="d" stroke="#000" stroke-width="2.4" d="M4.96,0.437V0.467M4.86,0.437H5.06M4.86,0.467H5.06 M5.49,0.34V0.38M5.39,0.34H5.59M5.39,0.38H5.59 M6.07,0.175V0.225M5.97,0.175H6.17M5.97,0.225H6.17 M6.44,0.073V0.113M6.34,0.073H6.54M6.34,0.113H6.54 M8.02,0.113V0.143M7.92,0.113H8.12M7.92,0.143H8.12 M8.94,0.343V0.383M8.84,0.343H9.04M8.84,0.383H9.04 M9.93,0.62V0.7M9.83,0.62H10.03M9.83,0.7H10.03 M10.83,0.562V0.682M10.73,0.562H10.93M10.73,0.682H10.93"/>
<path class="d" stroke="#ff0000" stroke-width="2.4" d="M4.96,0.309V0.349M4.86,0.309H5.06M4.86,0.349H5.06 M5.49,0.395V0.525M5.39,0.395H5.59M5.39,0.525H5.59 M6.07,0.27V0.31M5.97,0.27H6.17M5.97,0.31H6.17 M7.52,0.37V0.41M7.42,0.37H7.62M7.42,0.41H7.62 M8.02,0.54V0.64M7.92,0.54H8.12M7.92,0.64H8.12 M8.94,0.746V0.786M8.84,0.746H9.04M8.84,0.786H9.04 M9.93,0.94V0.98M9.83,0.94H10.03M9.83,0.98H10.03 M10.83,0.75V0.95M10.73,0.75H10.93M10.73,0.95H10.93"/>
<path class="d" stroke="#000" stroke-width="4.2" stroke-linecap="round" d="M3.05,0.0h0.001M4,0.039h0.001M4.96,0.452h0.001M5.49,0.36h0.001M6.07,0.2h0.001M6.44,0.093h0.001M6.94,0.063h0.001M7.52,0.075h0.001M8.02,0.128h0.001M8.94,0.363h0.001M9.93,0.66h0.001M10.83,0.622h0.001"/>
<path class="d" stroke="#ff0000" stroke-width="4.8" stroke-linecap="square" d="M3.05,0.0h0.001M4,0.062h0.001M4.96,0.329h0.001M5.49,0.46h0.001M6.07,0.29h0.001M6.44,0.244h0.001M6.94,0.272h0.001M7.52,0.39h0.001M8.02,0.59h0.001M8.94,0.766h0.001M9.93,0.96h0.001M10.83,0.85h0.001"/>
</g>

<!-- ================= PANEL J ================= -->
<text x="1522" y="1288" class="b" font-size="49">J</text>
<text x="1793" y="1350" class="b" font-size="19.5" text-anchor="middle" textLength="245" lengthAdjust="spacingAndGlyphs">FR-GECO1c pH Titration</text>
<path class="ax" stroke-width="2.8" d="M1596 1385.7V1647.3H1990 M1587 1647.3H1596 M1587 1619.9H1596 M1587 1592.6H1596 M1587 1565.2H1596 M1587 1537.8H1596 M1587 1510.4H1596 M1587 1483.1H1596 M1587 1455.7H1596 M1587 1428.3H1596 M1587 1400.9H1596 M1596 1647.3V1655 M1645.1 1647.3V1655 M1694.2 1647.3V1655 M1743.4 1647.3V1655 M1792.5 1647.3V1655 M1841.6 1647.3V1655 M1890.7 1647.3V1655 M1939.9 1647.3V1655 M1989 1647.3V1655"/>
<g class="b" font-size="18.5">
<g text-anchor="end"><text x="1579" y="1653.8">0.0</text><text x="1579" y="1544.3">0.5</text><text x="1579" y="1434.8">1.0</text></g>
<g text-anchor="middle"><text x="1596" y="1680.7">3</text><text x="1645.1" y="1680.7">4</text><text x="1694.2" y="1680.7">5</text><text x="1743.4" y="1680.7">6</text><text x="1792.5" y="1680.7">7</text><text x="1841.6" y="1680.7">8</text><text x="1890.7" y="1680.7">9</text><text x="1939.9" y="1680.7">10</text><text x="1987" y="1680.7">11</text>
<text x="1793" y="1712">pH</text></g>
</g>
<text class="b" font-size="17.5" text-anchor="middle" transform="translate(1544,1516) rotate(-90)" textLength="288" lengthAdjust="spacingAndGlyphs">Normalized Fluorescence Intensity</text>
<g font-size="20">
<circle cx="1641" cy="1402.7" r="2.2" fill="#000"/>
<text x="1671.7" y="1410">EGTA</text>
<rect x="1638.6" y="1435.3" width="4.8" height="4.8" fill="#0a0aff"/>
<text x="1671.7" y="1446.7">Ca<tspan dy="-8" font-size="14">2+</tspan></text>
</g>
<g transform="matrix(49.125,0,0,-219,1448.6,1647.3)">
<path class="d" stroke="#0a0aff" stroke-width="2.6" d="M6.45,0.171 L6.75,0.1927 7,0.2257 7.25,0.2796 7.5,0.3612 7.75,0.4696 8,0.592 8.25,0.7076 8.5,0.7995 8.75,0.8628 9,0.9024 9.25,0.925 9.5,0.939 10,0.95 10.5,0.9535 10.85,0.9545"/>
<path class="d" stroke="#000" stroke-width="2.6" d="M6.45,0.0156 L7,0.0172 7.5,0.0218 8,0.0357 8.5,0.0756 8.75,0.1154 9,0.1748 9.25,0.2554 9.5,0.3515 9.75,0.45 10,0.5367 10.25,0.6028 10.5,0.6485 10.85,0.6859"/>
<path class="d" stroke="#000" stroke-width="2.4" d="M5.5,0.13V0.16M5.4,0.13H5.6M5.4,0.16H5.6 M9.96,0.45V0.59M9.86,0.45H10.06M9.86,0.59H10.06 M10.84,0.605V0.725M10.74,0.605H10.94M10.74,0.725H10.94"/>
<path class="d" stroke="#0a0aff" stroke-width="2.4" d="M5.5,0.165V0.215M5.4,0.165H5.6M5.4,0.215H5.6 M6.97,0.205V0.235M6.87,0.205H7.07M6.87,0.235H7.07 M8.04,0.579V0.649M7.94,0.579H8.14M7.94,0.649H8.14 M10.84,0.88V0.92M10.74,0.88H10.94M10.74,0.92H10.94"/>
<path class="d" stroke="#000" stroke-width="4.2" stroke-linecap="round" d="M3.05,0h0.001M4,0.01h0.001M5,0.18h0.001M5.5,0.145h0.001M6.08,0.069h0.001M6.45,0.025h0.001M6.97,0.015h0.001M7.55,0.02h0.001M8.04,0.035h0.001M8.95,0.16h0.001M9.96,0.52h0.001M10.84,0.665h0.001"/>
<path class="d" stroke="#0a0aff" stroke-width="4.8" stroke-linecap="square" d="M3.05,0h0.001M4,0.02h0.001M5,0.133h0.001M5.5,0.19h0.001M6.08,0.15h0.001M6.45,0.163h0.001M6.97,0.22h0.001M7.55,0.38h0.001M8.04,0.614h0.001M8.95,0.89h0.001M9.96,1.0h0.001M10.84,0.9h0.001"/>
</g>
</svg>
</body></html>
